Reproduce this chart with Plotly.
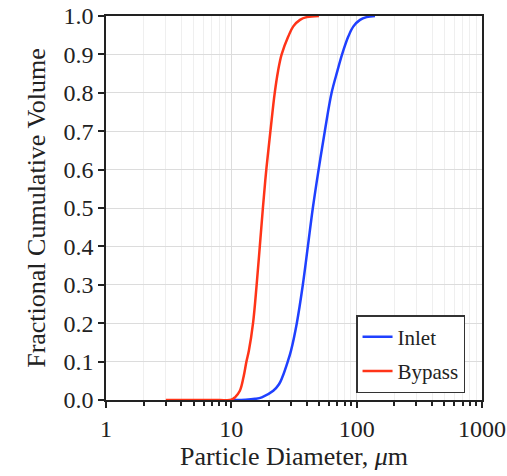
import plotly.graph_objects as go

# Data
inlet_d = [10, 13, 15.5, 17.5, 21.6, 24.0, 25.5, 28.2, 29.9, 33.3, 37.2, 40.8, 44.7, 49.7, 55.7, 63.1, 70.2, 76.5, 85.9, 94.2, 106.4, 120, 140]
inlet_v = [0, 0.0005, 0.003, 0.007, 0.024, 0.041, 0.059, 0.1, 0.128, 0.2, 0.3, 0.4, 0.5, 0.6, 0.7, 0.8, 0.857, 0.9, 0.947, 0.973, 0.99, 0.997, 1.0]

bypass_d = [3, 5, 8, 10, 10.7, 11.7, 12.5, 13.2, 13.8, 14.9, 15.92, 16.87, 17.86, 19.01, 20.5, 22.2, 23.6, 25.2, 28.5, 31.2, 35.3, 40, 50]
bypass_v = [0, 0, 0, 0.0005, 0.007, 0.024, 0.059, 0.1, 0.128, 0.2, 0.3, 0.4, 0.5, 0.6, 0.7, 0.8, 0.857, 0.9, 0.947, 0.973, 0.99, 0.997, 1.0]

x_ticks = [1, 10, 100, 1000]
x_ticklabels = ["1", "10", "100", "1000"]
y_ticks = [0.0, 0.1, 0.2, 0.3, 0.4, 0.5, 0.6, 0.7, 0.8, 0.9, 1.0]
y_ticklabels = ["%.1f" % v for v in y_ticks]
minor_vals = [m * 10 ** e for e in range(0, 3) for m in range(2, 10)]

FONT = "Liberation Serif"
TXT = "#222222"

fig = go.Figure()
fig.add_trace(go.Scatter(x=inlet_d, y=inlet_v, mode="lines", name="Inlet", legendgroup="a",
                         line=dict(color="#1f40ff", width=2.5, shape="spline", smoothing=1.0)))
fig.add_trace(go.Scatter(x=bypass_d, y=bypass_v, mode="lines", name="Bypass", legendgroup="b",
                         line=dict(color="#ff3418", width=2.5, shape="spline", smoothing=1.0)))

fig.update_layout(
    width=507, height=476,
    margin=dict(l=106, r=25, t=16, b=76, autoexpand=False),
    paper_bgcolor="white", plot_bgcolor="white",
    font=dict(family=FONT, color=TXT, size=22),
    showlegend=True,
    legend=dict(x=0.665, y=0.221, xanchor="left", yanchor="top",
                bordercolor="#333333", borderwidth=1.5, bgcolor="white",
                font=dict(family=FONT, size=21, color=TXT),
                itemwidth=30, tracegroupgap=4),
)
fig.update_xaxes(
    type="log", range=[0, 3], automargin=False,
    tickvals=x_ticks, ticktext=x_ticklabels,
    ticks="outside", ticklen=6, tickwidth=1.5, tickcolor="#222",
    showline=True, linecolor="#222", linewidth=1.5, mirror=True,
    showgrid=True, gridcolor="#dcdcdc", gridwidth=1,
    minor=dict(tickvals=minor_vals, ticks="outside", ticklen=4, tickcolor="#222",
               showgrid=True, gridcolor="#efefef", gridwidth=1),
    zeroline=False,
    tickfont=dict(family=FONT, size=24, color=TXT),
    title=dict(text="Particle Diameter, <i>μ</i>m", font=dict(family=FONT, size=26, color=TXT), standoff=6),
)
fig.update_yaxes(
    range=[0, 1.0], automargin=False,
    tickvals=y_ticks, ticktext=y_ticklabels,
    ticks="outside", ticklen=6, tickwidth=1.5, tickcolor="#222",
    showline=True, linecolor="#222", linewidth=1.5, mirror=True,
    showgrid=True, gridcolor="#dcdcdc", gridwidth=1,
    zeroline=False,
    tickfont=dict(family=FONT, size=24, color=TXT),
    title=dict(text="Fractional Cumulative Volume", font=dict(family=FONT, size=26, color=TXT), standoff=10),
)

fig.write_html("out.html")
